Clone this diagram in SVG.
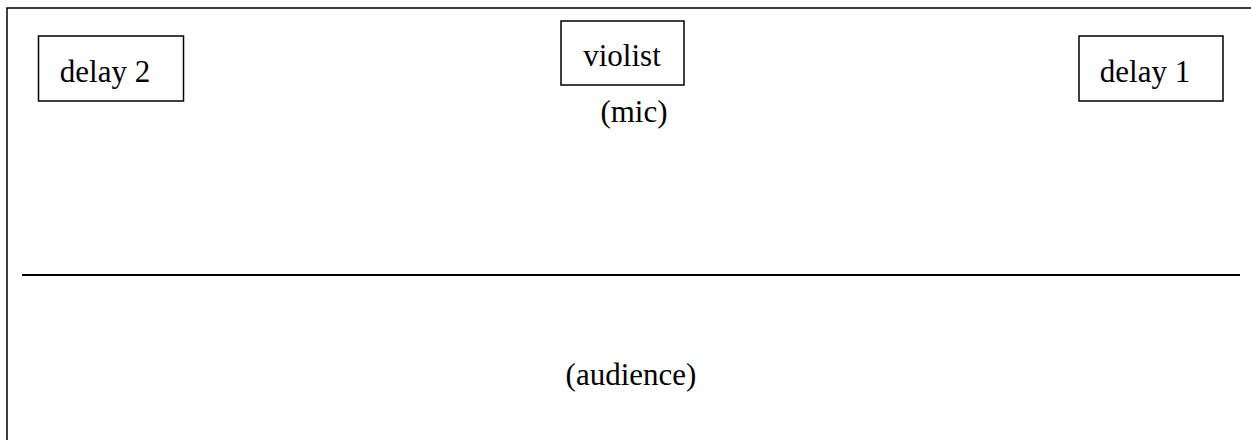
<svg xmlns="http://www.w3.org/2000/svg" width="1251" height="440" viewBox="0 0 1251 440">
<style>
.box{fill:#fff;stroke:#000;stroke-width:1.5}
.t{font-family:"Liberation Serif","Times New Roman",serif;font-size:31px;fill:#000;text-anchor:middle}
.ln{stroke:#000;fill:none}
</style>
<rect width="1251" height="440" fill="#fff"/>
<g id="frame">
<path class="ln" stroke-width="1.5" d="M7,440 V8 H1251"/>
</g>
<g id="stage-line">
<line class="ln" stroke-width="2" x1="22" y1="275" x2="1240" y2="275"/>
</g>
<g id="delay2">
<rect class="box" x="38.5" y="36" width="145" height="65"/>
<text class="t" x="105" y="82">delay 2</text>
</g>
<g id="violist">
<rect class="box" x="561" y="21" width="123" height="64"/>
<text class="t" x="622" y="66">violist</text>
</g>
<g id="mic">
<text class="t" x="634" y="122">(mic)</text>
</g>
<g id="delay1">
<rect class="box" x="1079" y="36" width="144" height="65"/>
<text class="t" x="1145" y="82">delay 1</text>
</g>
<g id="audience">
<text class="t" x="631" y="385">(audience)</text>
</g>
<g id="connectors"></g>
</svg>
